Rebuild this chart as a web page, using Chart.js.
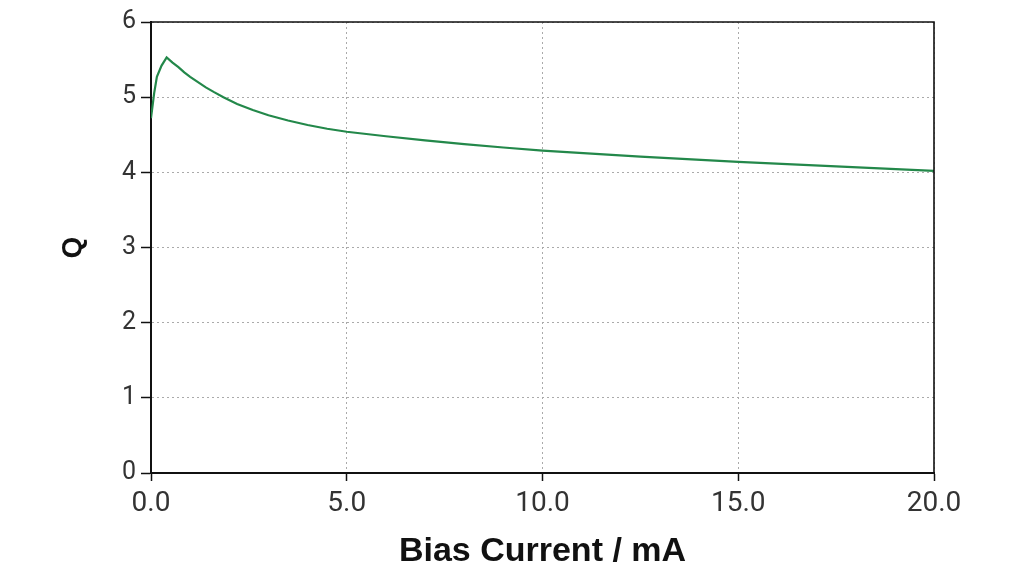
<!DOCTYPE html>
<html>
<head>
<meta charset="utf-8">
<script src="https://cdn.jsdelivr.net/npm/chart.js@4/dist/chart.umd.min.js"></script>
<style>
  html, body { margin: 0; padding: 0; background: #fff; }
  #wrap { width: 1024px; height: 576px; }
</style>
</head>
<body>
<div id="wrap"><canvas id="c"></canvas></div>
<script>
// values
var biasCurrent = [0, 0.08, 0.15, 0.27, 0.4, 0.55, 0.7, 0.85, 1.0, 1.2, 1.4, 1.6, 1.85, 2.2, 2.6, 3.0, 3.5, 4.0, 4.5, 5.0, 6.0, 7.0, 8.0, 9.0, 10.0, 12.5, 15.0, 17.5, 20.0];
var qValues     = [4.72, 5.05, 5.27, 5.42, 5.53, 5.46, 5.40, 5.33, 5.27, 5.20, 5.13, 5.07, 5.00, 4.91, 4.83, 4.76, 4.69, 4.63, 4.58, 4.54, 4.48, 4.425, 4.375, 4.33, 4.29, 4.21, 4.14, 4.08, 4.02];
var xTicks = [0, 5, 10, 15, 20];
var yTicks = [0, 1, 2, 3, 4, 5, 6];

var points = biasCurrent.map(function (x, i) { return { x: x, y: qValues[i] }; });

Chart.defaults.font.family = 'Roboto, "Liberation Sans", Arial, sans-serif';
Chart.defaults.color = '#333';

// box round the plot (top and right edges)
var frame = {
  id: 'frame',
  afterDraw: function (chart) {
    var a = chart.chartArea, c = chart.ctx;
    c.save();
    c.strokeStyle = '#111';
    c.lineWidth = 1.6;
    c.beginPath();
    c.moveTo(a.left, a.top);
    c.lineTo(a.right, a.top);
    c.lineTo(a.right, a.bottom);
    c.stroke();
    c.restore();
  }
};

new Chart(document.getElementById('c').getContext('2d'), {
  type: 'line',
  data: {
    datasets: [{
      data: points,
      borderColor: '#23884a',
      borderWidth: 2.2,
      pointRadius: 0,
      fill: false,
      tension: 0
    }]
  },
  options: {
    responsive: true,
    maintainAspectRatio: false,
    animation: false,
    layout: { padding: { top: 22, right: 90, left: 0, bottom: 0 } },
    plugins: { legend: { display: false }, tooltip: { enabled: false } },
    scales: {
      x: {
        type: 'linear',
        min: 0,
        max: 20,
        afterBuildTicks: function (s) { s.ticks = xTicks.map(function (v) { return { value: v }; }); },
        afterFit: function (s) { s.height = 103; },
        ticks: {
          padding: 6,
          font: { size: 28 },
          color: '#333',
          maxRotation: 0,
          callback: function (v) { return Number(v).toFixed(1); }
        },
        grid: { color: '#aaa', lineWidth: 1, tickColor: '#111', tickLength: 8, tickWidth: 1.5 },
        border: { color: '#111', width: 2, dash: [2, 3] },
        title: {
          display: true,
          text: 'Bias Current / mA',
          color: '#111',
          font: { size: 34, weight: 'bold', family: '"Liberation Sans", Arial, sans-serif' },
          padding: { top: 0, bottom: 4 }
        }
      },
      y: {
        min: 0,
        max: 6,
        afterBuildTicks: function (s) { s.ticks = yTicks.map(function (v) { return { value: v }; }); },
        afterFit: function (s) { s.width = 151; },
        ticks: { padding: 5, font: { size: 25 }, color: '#333' },
        grid: { color: '#aaa', lineWidth: 1, tickColor: '#111', tickLength: 10, tickWidth: 1.5 },
        border: { color: '#111', width: 2, dash: [2, 3] },
        title: {
          display: true,
          text: 'Q',
          color: '#111',
          font: { size: 28, weight: 'bold', family: '"Liberation Sans", Arial, sans-serif' },
          padding: { top: 56, bottom: 0 }
        }
      }
    }
  },
  plugins: [frame]
});
</script>
</body>
</html>
